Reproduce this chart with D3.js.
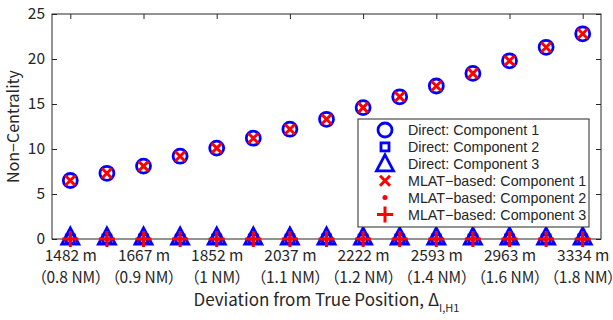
<!DOCTYPE html>
<html>
<head>
<meta charset="utf-8">
<script src="https://cdn.jsdelivr.net/npm/d3@7"></script>
<style>
  body { margin: 0; background: #fff; }
  text { font-family: "Noto Sans CJK JP", "Noto Sans", sans-serif; fill: #262626; }
  .legend text { font-family: "Liberation Sans", "Noto Sans CJK JP", sans-serif; }
</style>
</head>
<body>
<svg width="613" height="320"></svg>
<script>
// data
var tickIndex = [0, 2, 4, 6, 8, 10, 12, 14];
var tickMeters = ['1482 m', '1667 m', '1852 m', '2037 m', '2222 m', '2593 m', '2963 m', '3334 m'];
var tickNM = ['（0.8 NM）', '（0.9 NM）', '（1 NM）', '（1.1 NM）', '（1.2 NM）', '（1.4 NM）', '（1.6 NM）', '（1.8 NM）'];
var yTicks = [0, 5, 10, 15, 20, 25];

var directComp1 = [6.5, 7.3, 8.1, 9.2, 10.1, 11.2, 12.2, 13.3, 14.6, 15.8, 17.0, 18.4, 19.8, 21.3, 22.8];
var directComp2 = [0, 0, 0, 0, 0, 0, 0, 0, 0, 0, 0, 0, 0, 0, 0];
var directComp3 = [0, 0, 0, 0, 0, 0, 0, 0, 0, 0, 0, 0, 0, 0, 0];
var mlatComp1 = [6.5, 7.3, 8.1, 9.2, 10.1, 11.2, 12.2, 13.3, 14.6, 15.8, 17.0, 18.4, 19.8, 21.3, 22.8];
var mlatComp2 = [0, 0, 0, 0, 0, 0, 0, 0, 0, 0, 0, 0, 0, 0, 0];
var mlatComp3 = [0, 0, 0, 0, 0, 0, 0, 0, 0, 0, 0, 0, 0, 0, 0];

var legendNames = ['Direct: Component 1', 'Direct: Component 2', 'Direct: Component 3',
  'MLAT−based: Component 1', 'MLAT−based: Component 2', 'MLAT−based: Component 3'];

var margin = {top: 14, right: 12, bottom: 81, left: 52};
var width = 613 - margin.left - margin.right;
var height = 320 - margin.top - margin.bottom;
var axisColor = '#262626';
var blue = '#0000ff', red = '#ff0000';

var x = d3.scaleLinear().domain([-0.5, 14.5]).range([0, width]);
var y = d3.scaleLinear().domain([0, 25]).range([height, 0]);

var svg = d3.select('svg');
var g = svg.append('g')
  .attr('transform', 'translate(' + margin.left + ',' + margin.top + ')');

// marker painters
function circle(sel) {
  sel.append('circle').attr('r', 7).attr('fill', 'none').attr('stroke', blue).attr('stroke-width', 2.8);
}
function square(sel) {
  sel.append('rect').attr('x', -4).attr('y', -4).attr('width', 8).attr('height', 8)
    .attr('fill', 'none').attr('stroke', blue).attr('stroke-width', 2.8);
}
function triangle(sel) {
  sel.append('path').attr('d', 'M0,-11L8.5,5L-8.5,5Z')
    .attr('fill', 'none').attr('stroke', blue).attr('stroke-width', 2.8);
}
function cross(sel) {
  sel.append('path').attr('d', 'M-5,-5L5,5M-5,5L5,-5')
    .attr('stroke', red).attr('stroke-width', 3);
}
function dot(sel) {
  sel.append('circle').attr('r', 2.5).attr('fill', red);
}
function plus(sel) {
  sel.append('path').attr('d', 'M-8,0L8,0M0,-8L0,8')
    .attr('stroke', red).attr('stroke-width', 3);
}

var series = [
  {vals: directComp1, draw: circle},
  {vals: directComp2, draw: square},
  {vals: directComp3, draw: triangle},
  {vals: mlatComp1, draw: cross},
  {vals: mlatComp2, draw: dot},
  {vals: mlatComp3, draw: plus}
];

// axes (ticks point inward)
var xAxis = d3.axisBottom(x).tickValues(tickIndex).tickSize(-5).tickPadding(8)
  .tickFormat((d, i) => tickMeters[i]);
var yAxis = d3.axisLeft(y).tickValues(yTicks).tickSize(-5).tickPadding(7);

var gx = g.append('g').attr('transform', 'translate(0,' + height + ')').call(xAxis);
gx.selectAll('text').attr('dy', null).attr('y', 22);
// second label row, proportional CJK parens
gx.selectAll('.tick').append('text')
  .attr('y', 44)
  .attr('fill', axisColor)
  .style('font-feature-settings', '"palt" 1')
  .text((d, i) => tickNM[i]);
g.append('g').call(yAxis);
g.append('g').call(d3.axisTop(x).tickValues(tickIndex).tickSize(-5).tickFormat(''));
g.append('g').attr('transform', 'translate(' + width + ',0)')
  .call(d3.axisRight(y).tickValues(yTicks).tickSize(-5).tickFormat(''));

g.selectAll('.domain').remove();
g.selectAll('.tick line').attr('stroke', axisColor);
g.selectAll('.tick text').style('font-size', '15.5px').attr('fill', axisColor);
g.append('rect').attr('width', width).attr('height', height)
  .attr('fill', 'none').attr('stroke', axisColor).attr('stroke-width', 1);

// markers
series.forEach(function(s) {
  g.append('g').selectAll('g')
    .data(s.vals)
    .enter()
    .append('g')
      .attr('transform', (d, i) => 'translate(' + x(i) + ',' + y(d) + ')')
      .each(function() { s.draw(d3.select(this)); });
});

// legend
var lg = svg.append('g').attr('class', 'legend').attr('transform', 'translate(358,119)');
lg.append('rect').attr('width', 231).attr('height', 108)
  .attr('fill', '#fff').attr('stroke', axisColor).attr('stroke-width', 1);
legendNames.forEach(function(name, i) {
  var row = lg.append('g').attr('transform', 'translate(0,' + (11 + i * 16.9) + ')');
  var m = row.append('g').attr('transform', 'translate(27,' + (i == 2 ? 2 : 0) + ')');
  series[i].draw(m);
  row.append('text').attr('x', 50).attr('dy', '0.36em')
    .style('font-size', '14.3px').text(name);
});

// axis titles
var xt = svg.append('text')
  .attr('x', margin.left + width / 2).attr('y', 306)
  .attr('text-anchor', 'middle').style('font-size', '17px');
xt.append('tspan').text('Deviation from True Position, Δ');
xt.append('tspan').attr('dy', 6).style('font-size', '11px').text('I,H1');

svg.append('text')
  .attr('transform', 'translate(19,' + (margin.top + height / 2) + ') rotate(-90)')
  .attr('text-anchor', 'middle').style('font-size', '16px')
  .text('Non−Centrality');
</script>
</body>
</html>
